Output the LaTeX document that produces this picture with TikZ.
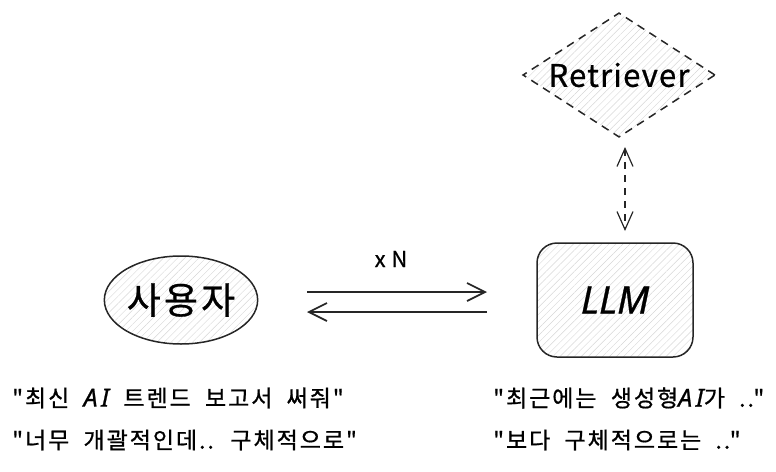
\documentclass[tikz,border=0pt]{standalone}
\usepackage{fontspec}
\newfontfamily\kr{Noto Sans CJK KR}
\newfontfamily\krsp{Noto Sans CJK KR}[LetterSpace=8.5,WordSpace=2,FakeBold=0.8]
\newfontfamily\krret{Noto Sans CJK KR}[LetterSpace=4,FakeBold=0.8]
\newfontfamily\latinhand{Noto Sans}[FakeBold=0.8]
\newfontfamily\latinsp{Noto Sans}[LetterSpace=14,FakeBold=0.8]
\usetikzlibrary{arrows.meta,patterns.meta,shapes.geometric}
\tikzset{
  hatch/.style={pattern={Lines[angle=45,distance=5pt,line width=0.45pt]},pattern color=black!16},
  shapeline/.style={draw=black!85,line width=1.5pt},
  conn/.style={draw=black!85,line width=1.9pt,-{Straight Barb[length=18pt,width=18pt,line width=1.7pt]}},
  lbl/.style={font=\krsp\fontsize{23}{27}\selectfont,anchor=west,inner sep=0pt},
}
\newcommand{\hai}{{\latinsp\fontsize{25}{27}\selectfont\itshape AI}}
\begin{document}
\begin{tikzpicture}[x=1pt,y=-1pt,font=\kr]
\useasboundingbox (0,0) rectangle (776,471);
% Retriever diamond
\node[shapeline,hatch,dashed,dash pattern=on 8pt off 6pt,diamond,aspect=1.55,minimum width=192pt,minimum height=124pt,inner sep=0pt,font=\krret\fontsize{31}{34}\selectfont] (ret) at (619,75) {Retriever};
% LLM box
\node[shapeline,hatch,rounded corners=20pt,minimum width=156pt,minimum height=114pt,inner sep=0pt] (llm) at (615,300) {\latinhand\fontsize{38}{42}\selectfont\itshape LLM};
% user ellipse
\node[shapeline,hatch,ellipse,minimum width=152pt,minimum height=88pt,inner sep=0pt,font=\krsp\fontsize{37}{40}\selectfont] (user) at (181,300) {사용자};
% dashed bidirectional arrow
\coordinate (rb) at (625,147);
\coordinate (lt) at (625,231);
\draw[draw=black!85,line width=1.2pt,dashed,dash pattern=on 7pt off 6pt,{Straight Barb[length=18pt,width=16pt,line width=1.2pt]}-{Straight Barb[length=18pt,width=16pt,line width=1.2pt]}] (rb) -- (lt);
% horizontal arrows
\coordinate (a1s) at (307,292);
\coordinate (a1e) at (487,292);
\coordinate (a2s) at (487,312);
\coordinate (a2e) at (307,312);
\draw[conn] (a1s) -- (a1e);
\draw[conn] (a2s) -- (a2e);
\node[font=\krret\fontsize{22}{26}\selectfont,inner sep=0pt] (xn) at (391,259) {x N};
% texts
\node[lbl] (t1) at (12,398) {"최신 \hai{} 트렌드 보고서 써줘"};
\node[lbl] (t2) at (12,440) {"너무 개괄적인데.. 구체적으로"};
\node[lbl] (t3) at (493,398) {"최근에는 생성형\hai{}가 .."};
\node[lbl] (t4) at (493,440) {"보다 구체적으로는 .."};
\end{tikzpicture}
\end{document}
